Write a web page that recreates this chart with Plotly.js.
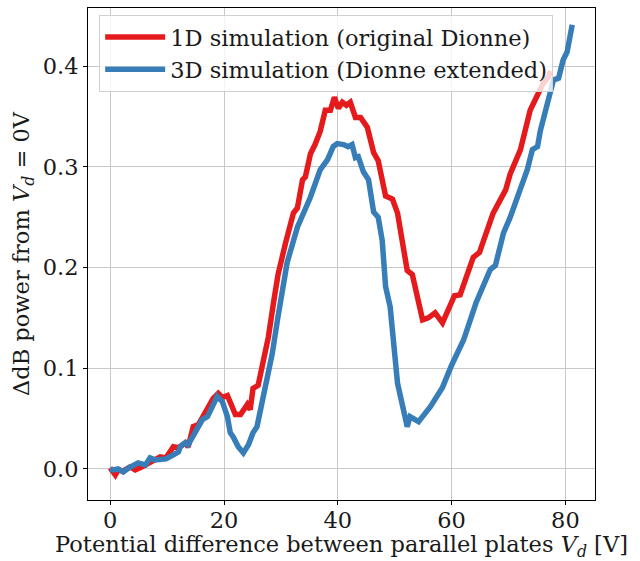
<!DOCTYPE html>
<html>
<head>
<meta charset="utf-8">
<script src="https://cdn.plot.ly/plotly-3.0.1.min.js"></script>
<style>html,body{margin:0;padding:0;background:#fff;}#chart{width:640px;height:561px;}</style>
</head>
<body>
<div id="chart"></div>
<script>
var redName = "1D simulation (original Dionne)";
var blueName = "3D simulation (Dionne extended)";

var xRed = [0,0.9,1.4,2.3,3.5,4.4,5.5,7.0,8.8,9.8,11.1,12.0,13.2,13.7,14.6,15.5,16.2,17.1,18.1,19.0,19.7,20.6,21.1,22.0,22.9,23.7,24.1,24.6,25.1,26.0,26.9,27.8,28.7,29.5,30.8,32.2,32.9,33.8,34.3,35.2,36.0,36.9,37.8,38.7,39.4,40.1,40.8,41.5,42.2,43.1,44.0,45.2,46.3,47.1,48.4,49.6,50.5,52.2,53.1,54.0,54.9,55.9,57.1,58.4,60.5,61.5,63.8,64.9,67.3,69.5,70.3,72.1,73.8,74.4,76.1,77.0,77.4];
var yRed = [0.001,-0.006,-0.001,-0.002,0.002,-0.001,0.002,0.007,0.012,0.011,0.022,0.021,0.026,0.022,0.042,0.044,0.051,0.061,0.070,0.075,0.071,0.073,0.067,0.054,0.054,0.062,0.064,0.059,0.080,0.083,0.105,0.131,0.165,0.193,0.224,0.254,0.259,0.287,0.290,0.313,0.322,0.335,0.356,0.356,0.369,0.358,0.364,0.361,0.364,0.349,0.349,0.339,0.314,0.306,0.271,0.268,0.254,0.197,0.193,0.168,0.148,0.150,0.155,0.145,0.172,0.173,0.210,0.215,0.254,0.277,0.293,0.317,0.356,0.363,0.383,0.389,0.395];

var xBlue = [0,0.5,1.4,2.3,3.2,4.1,4.9,6.2,7.0,7.9,9.8,11.1,12.0,12.3,13.2,13.7,14.9,16.2,17.1,17.9,18.8,19.7,20.6,21.1,21.6,22.5,23.4,24.3,25.1,25.8,26.7,27.6,28.5,29.4,30.2,31.1,32.9,35.2,36.9,38.2,39.2,39.9,41.0,41.8,42.5,43.1,43.6,44.5,45.4,46.3,47.1,47.8,48.4,49.2,50.5,52.2,52.7,54.2,56.3,58.4,60.0,62.1,64.3,66.8,67.7,69.1,70.3,72.1,73.3,74.2,75.1,75.6,76.5,77.9,78.8,79.6,80.3,81.2];
var yBlue = [0.000,-0.001,0.000,-0.003,0.001,0.003,0.006,0.004,0.011,0.009,0.010,0.014,0.017,0.022,0.026,0.024,0.036,0.049,0.052,0.062,0.072,0.067,0.052,0.036,0.032,0.022,0.016,0.024,0.036,0.042,0.066,0.085,0.115,0.148,0.178,0.205,0.240,0.270,0.297,0.307,0.320,0.323,0.322,0.320,0.322,0.309,0.310,0.295,0.287,0.255,0.250,0.227,0.181,0.161,0.085,0.042,0.052,0.047,0.062,0.081,0.103,0.128,0.165,0.198,0.202,0.234,0.250,0.277,0.297,0.317,0.320,0.336,0.356,0.386,0.388,0.406,0.414,0.441];

var xTicks = [0,20,40,60,80];
var yTicks = [0.0,0.1,0.2,0.3,0.4];
var yTickText = ["0.0","0.1","0.2","0.3","0.4"];

var font = "DejaVu Serif, serif";
var fs = 22.5;

var traces = [
  {x:xRed, y:yRed, name:redName, mode:"lines", line:{color:"#e41a1c", width:5.5}},
  {x:xBlue, y:yBlue, name:blueName, mode:"lines", line:{color:"#377eb8", width:5.5}}
];

var layout = {
  width:640, height:561,
  margin:{l:88, r:45, t:8, b:61, pad:0},
  paper_bgcolor:"#fff", plot_bgcolor:"#fff",
  font:{family:font, size:fs, color:"#000"},
  showlegend:true,
  legend:{x:0.022, y:0.986, xanchor:"left", yanchor:"top", itemwidth:60,
    bgcolor:"rgba(255,255,255,0.8)", bordercolor:"#d0d0d0", borderwidth:1,
    font:{family:font, size:fs, color:"#1a1a1a"}, tracegroupgap:0},
  xaxis:{range:[-3.9,85.2], tickvals:xTicks, ticks:"outside", ticklen:4, tickcolor:"#000",
    ticklabelstandoff:-4,
    showgrid:true, gridcolor:"#c8c8c8", gridwidth:1, zeroline:false,
    showline:true, linecolor:"#000", linewidth:1, mirror:true,
    tickfont:{family:font, size:fs, color:"#1a1a1a"},
    title:{text:"Potential difference between parallel plates <i>V<sub>d</sub></i> [V]", font:{family:font, size:fs, color:"#1a1a1a"}, standoff:4}},
  yaxis:{range:[-0.0308,0.4576], tickvals:yTicks, ticktext:yTickText, ticks:"outside", ticklen:4, tickcolor:"#000",
    showgrid:true, gridcolor:"#c8c8c8", gridwidth:1, zeroline:false,
    showline:true, linecolor:"#000", linewidth:1, mirror:true,
    tickfont:{family:font, size:fs, color:"#1a1a1a"},
    title:{text:"ΔdB power from <i>V<sub>d</sub></i> = 0V", font:{family:font, size:fs, color:"#1a1a1a"}, standoff:6}}
};

Plotly.newPlot("chart", traces, layout, {displayModeBar:false, staticPlot:true});
</script>
</body>
</html>
